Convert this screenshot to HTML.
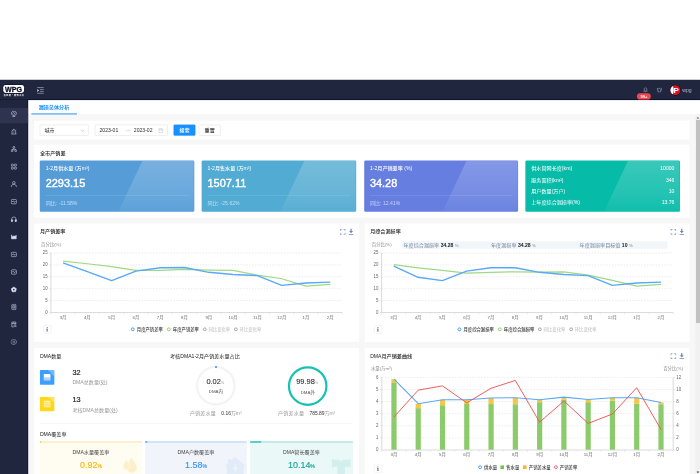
<!DOCTYPE html><html lang="zh"><head><meta charset="utf-8"><title>漏损总体分析</title><style>
*{box-sizing:border-box;margin:0;padding:0}
html,body{width:700px;height:474px;overflow:hidden;background:#fff}
body{font-family:"Liberation Sans","Noto Sans CJK SC",sans-serif;}
#root{position:absolute;left:0;top:0;width:1921px;height:1303px;transform:scale(0.3645833);transform-origin:0 0;overflow:hidden;background:#fff;font-size:14px;color:#333}
.abs{position:absolute}
#header{left:0;top:219.43px;width:1920px;height:54.6px;background:#21263f;border-bottom:2.6px solid #03061f;box-shadow:0 1px 3px rgba(0,10,40,.4)}
#side{left:0;top:273px;width:76.8px;height:1030px;background:#21263f;border-right:2.5px solid #0a1033;box-shadow:1px 0 3px rgba(0,10,40,.4)}
#tabs{left:76.8px;top:273.7px;width:1844px;height:41px;background:#fff;border-bottom:1px solid #e8e8e8}
#main{left:76.8px;top:314.7px;width:1831px;height:986px;background:#f7f7f8}
.panel{position:absolute;background:#fff}
.ptitle{position:absolute;font-size:14px;font-weight:500;color:#222;white-space:nowrap;line-height:20px}
.card{position:absolute;top:439.5px;width:423.8px;height:141.3px;border-radius:3.5px;color:#fff;overflow:hidden}
.card .ov{position:absolute;left:0;top:0;width:100%;height:100%}
.card .t{position:absolute;left:16px;top:12.5px;font-size:14px;line-height:20px;white-space:nowrap;font-weight:500}
.card .n{position:absolute;left:16px;top:44.5px;font-size:30px;line-height:36px;white-space:nowrap;-webkit-text-stroke:1.1px #fff}
.card .hr{position:absolute;left:16px;right:16px;top:96.5px;height:1px;background:rgba(255,255,255,.28)}
.card .s{position:absolute;left:16px;top:107.5px;font-size:14px;line-height:20px;color:rgba(255,255,255,.62);white-space:nowrap}
.row4{position:absolute;left:16px;right:15px;font-size:14px;line-height:20px;height:20px}
.row4 b{font-weight:normal;position:absolute;right:0;top:0}
.inp{position:absolute;top:341.8px;height:30px;border:1px solid #d2d2d2;border-radius:3px;background:#fff;font-size:14px;line-height:28px;color:#303030;white-space:nowrap}
svg text{font-family:"Liberation Sans","Noto Sans CJK SC",sans-serif}
</style></head><body><div id="root">
<div id="main" class="abs"></div>
<div id="tabs" class="abs"></div>
<div id="header" class="abs"></div><div id="side" class="abs"></div>
<div class="abs" style="left:0;top:296px;width:76.5px;height:42px;background:#2e3450"></div>
<div class="abs" style="left:8.8px;top:232.9px;width:57px;height:22px;background:#fff;border-radius:6.5px;box-shadow:0 0 0 1.6px #0d1126;color:#0a0d20;font-weight:bold;font-size:19.5px;line-height:22px;text-align:center;letter-spacing:0;-webkit-text-stroke:0.7px #0a0d20;font-family:'Liberation Sans',sans-serif">WPG</div>
<div class="abs" style="left:9.6px;top:257.6px;width:58px;height:7px;color:#fff;font-size:6px;line-height:7px;white-space:nowrap;letter-spacing:1.15px;font-weight:bold;overflow:hidden">威派格・智慧水务</div>
<svg class="abs" style="left:100.500px;top:237.500px" width="20" height="20" viewBox="0 0 19 19"><g stroke="#777d98" stroke-width="2.600" fill="none"><path d="M1 2H18M8 7H18M8 12H18M1 17H18"/></g><path d="M1 5.500L6 9.500L1 13.500Z" fill="#c3c7d8"/></svg>
<svg class="abs" style="left:28.6px;top:303.4px" width="18" height="18" viewBox="0 0 18 18" fill="none" stroke="#dfe2ee" stroke-width="1.5" stroke-linejoin="round"><path d="M9 2C4 2 2 5 2 8s2 5 7 5 7-2 7-5-2-6-7-6zM9 13v3M5 16.5h8M5 8l3-2 2 2 3-2" /></svg>
<svg class="abs" style="left:28.6px;top:351.5px" width="18" height="18" viewBox="0 0 18 18" fill="none" stroke="#dfe2ee" stroke-width="1.5" stroke-linejoin="round"><path d="M9 1v3M4 15V9a5 5 0 0 1 10 0v6M2 15.5h14M9 9v3" /><path d="M3 4l1.5 1.5M15 4l-1.5 1.5" /></svg>
<svg class="abs" style="left:28.6px;top:399.7px" width="18" height="18" viewBox="0 0 18 18" fill="none" stroke="#dfe2ee" stroke-width="1.5" stroke-linejoin="round"><circle cx="9" cy="4" r="2.6"/><circle cx="4" cy="13.5" r="2.6"/><circle cx="14" cy="13.5" r="2.6"/><path d="M9 6.5v3M4 11V9.5h10V11"/></svg>
<svg class="abs" style="left:28.6px;top:447.8px" width="18" height="18" viewBox="0 0 18 18" fill="none" stroke="#dfe2ee" stroke-width="1.5" stroke-linejoin="round"><rect x="2" y="2" width="5.5" height="5.5" rx="1"/><rect x="10.5" y="2" width="5.5" height="5.5" rx="1"/><rect x="2" y="10.5" width="5.5" height="5.5" rx="1"/><rect x="10.5" y="10.5" width="5.5" height="5.5" rx="1"/></svg>
<svg class="abs" style="left:28.6px;top:496.0px" width="18" height="18" viewBox="0 0 18 18" fill="none" stroke="#dfe2ee" stroke-width="1.5" stroke-linejoin="round"><circle cx="9" cy="5.5" r="3.6"/><path d="M2 17c0-5 3-7.5 7-7.5s7 2.500 7 7.500"/></svg>
<svg class="abs" style="left:28.6px;top:544.1px" width="18" height="18" viewBox="0 0 18 18" fill="none" stroke="#dfe2ee" stroke-width="1.5" stroke-linejoin="round"><rect x="2" y="3" width="14" height="12" rx="2.5"/><path d="M4.500 10c2-4 3.500-4 4.500-1s3 2 4.500-1.500"/></svg>
<svg class="abs" style="left:28.6px;top:592.2px" width="18" height="18" viewBox="0 0 18 18" fill="none" stroke="#dfe2ee" stroke-width="1.5" stroke-linejoin="round"><path d="M3 12V9a6 6 0 0 1 12 0v3"/><rect x="2" y="10.500" width="3.5" height="5.500" rx="1" fill="#dfe2ee"/><rect x="12.500" y="10.500" width="3.500" height="5.500" rx="1" fill="#dfe2ee"/></svg>
<svg class="abs" style="left:28.6px;top:640.4px" width="18" height="18" viewBox="0 0 18 18" fill="none" stroke="#dfe2ee" stroke-width="1.5" stroke-linejoin="round"><path d="M2.500 4v11h13V5l-3.500 4-3-2.500L5.500 10z" fill="#dfe2ee"/></svg>
<svg class="abs" style="left:28.6px;top:688.5px" width="18" height="18" viewBox="0 0 18 18" fill="none" stroke="#dfe2ee" stroke-width="1.5" stroke-linejoin="round"><rect x="2" y="3" width="14" height="12" rx="2.5"/><path d="M4.500 10c2-4 3.500-4 4.500-1s3 2 4.500-1.500"/></svg>
<svg class="abs" style="left:28.6px;top:736.6px" width="18" height="18" viewBox="0 0 18 18" fill="none" stroke="#dfe2ee" stroke-width="1.5" stroke-linejoin="round"><rect x="2" y="3" width="14" height="12" rx="2.5"/><path d="M4.500 10c2-4 3.500-4 4.500-1s3 2 4.500-1.500"/></svg>
<svg class="abs" style="left:28.6px;top:784.8px" width="18" height="18" viewBox="0 0 18 18" fill="none" stroke="#dfe2ee" stroke-width="1.5" stroke-linejoin="round"><path d="M9 2l7 5-2.500 8.500h-9L2 7z" fill="#dfe2ee"/><circle cx="9" cy="9.500" r="2.200" fill="#21263f" stroke="none"/></svg>
<svg class="abs" style="left:28.6px;top:832.9px" width="18" height="18" viewBox="0 0 18 18" fill="none" stroke="#dfe2ee" stroke-width="1.5" stroke-linejoin="round"><rect x="3.500" y="1.500" width="11" height="15" rx="2"/><rect x="6.500" y="5.500" width="5" height="6.500"/></svg>
<svg class="abs" style="left:28.6px;top:881.1px" width="18" height="18" viewBox="0 0 18 18" fill="none" stroke="#dfe2ee" stroke-width="1.5" stroke-linejoin="round"><path d="M14.500 8V2h-11v14h6M3.500 6.500h11M9 2v4.500"/><circle cx="12" cy="12" r="2.600"/><path d="M14 14l2.500 2.500"/></svg>
<svg class="abs" style="left:28.6px;top:929.2px" width="18" height="18" viewBox="0 0 18 18" fill="none" stroke="#a9aec4" stroke-width="1.5" stroke-linejoin="round"><circle cx="9" cy="9" r="2.600"/><path d="M9 1.500l2 1.700 2.600-.3.800 2.500 2.100 1.600-1 2.400.5 2.600-2.400 1-1.300 2.300-2.600-.6L9 16.500l-1.700-1.800-2.600.6-1.300-2.300-2.400-1 .5-2.600-1-2.400 2.100-1.600.8-2.500 2.600.3z"/></svg>
<svg class="abs" style="left:1764px;top:239px" width="13" height="15" viewBox="0 0 18 20" fill="none" stroke="#a9aec4" stroke-width="2.2"><path d="M9 2c-4 0-5 3-5 6v5l-2 2h14l-2-2V8c0-3-1-6-5-6zM7 17.5h4"/></svg>
<div class="abs" style="left:1747px;top:256px;width:38px;height:17px;border-radius:9px;background:#f5444d;color:#fff;font-size:11px;line-height:17px;text-align:center;font-weight:bold">99+</div>
<svg class="abs" style="left:1801px;top:240px" width="15" height="14" viewBox="0 0 20 19" fill="none" stroke="#a9aec4" stroke-width="2.2" stroke-linejoin="round"><path d="M6 2L1 5l2 4 2-1v9h10V8l2 1 2-4-5-3c-1 2-7 2-8 0z"/></svg>
<div class="abs" style="left:1838.5px;top:233.5px;width:27px;height:27px;border-radius:50%;background:#d8121f;overflow:hidden;box-shadow:0 0 0 1.5px #0c1024"><div style="position:absolute;left:-8px;top:-2px;width:17px;height:31px;border-radius:50%;background:#fff"></div><div style="position:absolute;left:9px;top:1px;color:#fff;font-weight:bold;font-size:22px;line-height:26px;font-family:'Liberation Sans',sans-serif">P</div></div>
<div class="abs" style="left:1871.5px;top:236.5px;color:#b3b8cb;font-size:14px;line-height:20px">wpg</div>
<div class="abs" style="left:106px;top:284px;color:#1890ff;font-size:14px;line-height:20px;font-weight:bold;white-space:nowrap">漏损总体分析</div>
<div class="abs" style="left:86px;top:311px;width:125px;height:3px;background:#3a9bf5"></div>
<div class="abs" style="left:1907px;top:314.7px;width:13px;height:986px;background:#f1f1f1"></div>
<div class="abs" style="left:1909.3px;top:329.2px;width:11px;height:557px;background:#c1c1c1"></div>
<svg class="abs" style="left:1907px;top:315px" width="15" height="15"><path d="M3.7 10L7.2 6L10.7 10Z" fill="#505050"/></svg>
<svg class="abs" style="left:1907px;top:1287.500px" width="15" height="15"><path d="M3.500 5.500L7.200 9.800L10.900 5.500Z" fill="#404040"/></svg>
<div class="panel" style="left:93.3px;top:330.8px;width:1797.6px;height:52.4px"></div>
<div class="inp" style="left:109.3px;width:133.5px;padding-left:11.5px">城市<svg style="position:absolute;right:10px;top:10px" width="11" height="10" viewBox="0 0 11 10" fill="none" stroke="#aaa" stroke-width="1.4"><path d="M1 2.5L5.5 7.5L10 2.5"/></svg></div>
<div class="inp" style="left:260px;width:200px"><span style="position:absolute;left:12px">2023-01</span><svg style="position:absolute;left:83px;top:9px" width="14" height="10" viewBox="0 0 14 10" fill="none" stroke="#bdbdbd" stroke-width="1.2"><path d="M1 6.5H12.5L9 3"/></svg><span style="position:absolute;left:106px">2023-02</span><svg style="position:absolute;right:11px;top:8px" width="14" height="14" viewBox="0 0 14 14" fill="none" stroke="#bbb" stroke-width="1.3"><rect x="1.5" y="2.5" width="11" height="10" rx="1.5"/><path d="M4.5 1v3M9.5 1v3M1.5 5.5h11"/></svg></div>
<div class="inp" style="left:476px;width:60px;background:#1890ff;border-color:#1890ff;color:#fff;text-align:center;font-weight:500">搜索</div>
<div class="inp" style="left:545px;width:60px;text-align:center;color:#333;font-weight:500">重置</div>
<div class="panel" style="left:93.3px;top:396.6px;width:1797.6px;height:200.5px"></div>
<div class="ptitle" style="left:109.7px;top:409.4px">全市产销差</div>
<div class="card" style="left:109.3px;width:423.8px;background:#569dd8"><svg class="ov" viewBox="0 0 424 141" preserveAspectRatio="none"><defs><linearGradient id="og" x1="0" y1="0" x2="0" y2="1"><stop offset="0" stop-color="#fff" stop-opacity="0.2"/><stop offset="0.65" stop-color="#fff" stop-opacity="0.12"/><stop offset="1" stop-color="#fff" stop-opacity="0.04"/></linearGradient></defs><polygon points="281.5,1.5 422.3,1.5 422.3,139.5 216,139.5" fill="url(#og)"/></svg><div class="t">1-2月供水量 (万m³)</div><div class="n">2293.15</div><div class="hr"></div><div class="s">同比: -11.58%</div></div>
<div class="card" style="left:553.25px;width:423.8px;background:#52abd2"><svg class="ov" viewBox="0 0 424 141" preserveAspectRatio="none"><defs><linearGradient id="og" x1="0" y1="0" x2="0" y2="1"><stop offset="0" stop-color="#fff" stop-opacity="0.2"/><stop offset="0.65" stop-color="#fff" stop-opacity="0.12"/><stop offset="1" stop-color="#fff" stop-opacity="0.04"/></linearGradient></defs><polygon points="281.5,1.5 422.3,1.5 422.3,139.5 216,139.5" fill="url(#og)"/></svg><div class="t">1-2月售水量 (万m³)</div><div class="n">1507.11</div><div class="hr"></div><div class="s">同比: -25.62%</div></div>
<div class="card" style="left:998.6px;width:422.4px;background:#657ee0"><svg class="ov" viewBox="0 0 424 141" preserveAspectRatio="none"><defs><linearGradient id="og" x1="0" y1="0" x2="0" y2="1"><stop offset="0" stop-color="#fff" stop-opacity="0.2"/><stop offset="0.65" stop-color="#fff" stop-opacity="0.12"/><stop offset="1" stop-color="#fff" stop-opacity="0.04"/></linearGradient></defs><polygon points="281.5,1.5 422.3,1.5 422.3,139.5 216,139.5" fill="url(#og)"/></svg><div class="t">1-2月产销差率 (%)</div><div class="n">34.28</div><div class="hr"></div><div class="s">同比: 12.41%</div></div>
<div class="card" style="left:1441.15px;background:#07bba9"><svg class="ov" viewBox="0 0 424 141" preserveAspectRatio="none"><defs><linearGradient id="og" x1="0" y1="0" x2="0" y2="1"><stop offset="0" stop-color="#fff" stop-opacity="0.2"/><stop offset="0.65" stop-color="#fff" stop-opacity="0.12"/><stop offset="1" stop-color="#fff" stop-opacity="0.04"/></linearGradient></defs><polygon points="281.5,1.5 422.3,1.5 422.3,139.5 216,139.5" fill="url(#og)"/></svg><div class="row4" style="top:12.5px">供水管网长度(km)<b>10000</b></div><div class="row4" style="top:43.5px">服务面积(km²)<b>346</b></div><div class="row4" style="top:74.5px">用户数量(万户)<b>10</b></div><div class="row4" style="top:105.5px">上年度综合漏损率(%)<b>13.76</b></div></div>
<div class="panel" style="left:93.3px;top:613.2px;width:891.7px;height:325.1px"></div>
<div class="panel" style="left:1000.1px;top:613.2px;width:890.8px;height:325.1px"></div>
<div class="ptitle" style="left:109.5px;top:625px">月产销差率</div>
<div class="ptitle" style="left:1015.3px;top:625px">月综合漏损率</div>
<svg class="abs" style="left:932.0571428571428px;top:628.2457142857143px" width="16" height="16" viewBox="0 0 16 16" fill="none" stroke="#5d76ad" stroke-width="2"><path d="M1 5.500V1h4.500M10.500 1H15v4.500M15 10.500V15h-4.500M5.500 15H1v-4.500"/></svg><svg class="abs" style="left:955.5571428571428px;top:627.2457142857143px" width="14" height="18" viewBox="0 0 14 18" fill="#6f86b8" stroke="none"><path d="M5.300 0h3.400v6.500h3.800L7 12.500 1.500 6.500h3.800zM0.500 14.800h13v2H0.500z"/></svg>
<svg class="abs" style="left:1839.1200000000001px;top:628.2457142857143px" width="16" height="16" viewBox="0 0 16 16" fill="none" stroke="#5d76ad" stroke-width="2"><path d="M1 5.500V1h4.500M10.500 1H15v4.500M15 10.500V15h-4.500M5.500 15H1v-4.500"/></svg><svg class="abs" style="left:1862.6200000000001px;top:627.2457142857143px" width="14" height="18" viewBox="0 0 14 18" fill="#6f86b8" stroke="none"><path d="M5.300 0h3.400v6.500h3.800L7 12.500 1.500 6.500h3.800zM0.500 14.800h13v2H0.500z"/></svg>
<svg class="abs" style="left:93.3px;top:613.2px" width="891.7" height="323" viewBox="0 0 891.7 323"><line x1="46.6" x2="846.1" y1="211.6" y2="211.6" stroke="#e4e4e4" stroke-width="2" stroke-dasharray="4 4"/><line x1="46.6" x2="846.1" y1="178.9" y2="178.9" stroke="#e4e4e4" stroke-width="2" stroke-dasharray="4 4"/><line x1="46.6" x2="846.1" y1="146.3" y2="146.3" stroke="#e4e4e4" stroke-width="2" stroke-dasharray="4 4"/><line x1="46.6" x2="846.1" y1="113.7" y2="113.7" stroke="#e4e4e4" stroke-width="2" stroke-dasharray="4 4"/><line x1="46.6" x2="846.1" y1="81.0" y2="81.0" stroke="#e4e4e4" stroke-width="2" stroke-dasharray="4 4"/><line x1="46.6" x2="46.6" y1="81.0" y2="244.2" stroke="#d6d6d6" stroke-width="2.4"/><line x1="46.6" x2="846.1" y1="244.2" y2="244.2" stroke="#d6d6d6" stroke-width="2.4"/><line x1="46.6" x2="46.6" y1="244.2" y2="249.2" stroke="#d0d0d0" stroke-width="1.2"/><line x1="113.2" x2="113.2" y1="244.2" y2="249.2" stroke="#d0d0d0" stroke-width="1.2"/><line x1="179.8" x2="179.8" y1="244.2" y2="249.2" stroke="#d0d0d0" stroke-width="1.2"/><line x1="246.5" x2="246.5" y1="244.2" y2="249.2" stroke="#d0d0d0" stroke-width="1.2"/><line x1="313.1" x2="313.1" y1="244.2" y2="249.2" stroke="#d0d0d0" stroke-width="1.2"/><line x1="379.7" x2="379.7" y1="244.2" y2="249.2" stroke="#d0d0d0" stroke-width="1.2"/><line x1="446.4" x2="446.4" y1="244.2" y2="249.2" stroke="#d0d0d0" stroke-width="1.2"/><line x1="513.0" x2="513.0" y1="244.2" y2="249.2" stroke="#d0d0d0" stroke-width="1.2"/><line x1="579.6" x2="579.6" y1="244.2" y2="249.2" stroke="#d0d0d0" stroke-width="1.2"/><line x1="646.2" x2="646.2" y1="244.2" y2="249.2" stroke="#d0d0d0" stroke-width="1.2"/><line x1="712.9" x2="712.9" y1="244.2" y2="249.2" stroke="#d0d0d0" stroke-width="1.2"/><line x1="779.5" x2="779.5" y1="244.2" y2="249.2" stroke="#d0d0d0" stroke-width="1.2"/><line x1="846.1" x2="846.1" y1="244.2" y2="249.2" stroke="#d0d0d0" stroke-width="1.2"/><text transform="translate(37.6,248.0) scale(.8,1)" font-size="15" fill="#666" text-anchor="end">0</text><line x1="41.6" x2="46.6" y1="244.2" y2="244.2" stroke="#d0d0d0" stroke-width="1.2"/><text transform="translate(37.6,215.4) scale(.8,1)" font-size="15" fill="#666" text-anchor="end">5</text><line x1="41.6" x2="46.6" y1="211.6" y2="211.6" stroke="#d0d0d0" stroke-width="1.2"/><text transform="translate(37.6,182.7) scale(.8,1)" font-size="15" fill="#666" text-anchor="end">10</text><line x1="41.6" x2="46.6" y1="178.9" y2="178.9" stroke="#d0d0d0" stroke-width="1.2"/><text transform="translate(37.6,150.1) scale(.8,1)" font-size="15" fill="#666" text-anchor="end">15</text><line x1="41.6" x2="46.6" y1="146.3" y2="146.3" stroke="#d0d0d0" stroke-width="1.2"/><text transform="translate(37.6,117.5) scale(.8,1)" font-size="15" fill="#666" text-anchor="end">20</text><line x1="41.6" x2="46.6" y1="113.7" y2="113.7" stroke="#d0d0d0" stroke-width="1.2"/><text transform="translate(37.6,84.8) scale(.8,1)" font-size="15" fill="#666" text-anchor="end">25</text><line x1="41.6" x2="46.6" y1="81.0" y2="81.0" stroke="#d0d0d0" stroke-width="1.2"/><text x="79.9" y="261.4" font-size="12" fill="#6a6a6a" text-anchor="middle">3月</text><text x="146.5" y="261.4" font-size="12" fill="#6a6a6a" text-anchor="middle">4月</text><text x="213.2" y="261.4" font-size="12" fill="#6a6a6a" text-anchor="middle">5月</text><text x="279.8" y="261.4" font-size="12" fill="#6a6a6a" text-anchor="middle">6月</text><text x="346.4" y="261.4" font-size="12" fill="#6a6a6a" text-anchor="middle">7月</text><text x="413.0" y="261.4" font-size="12" fill="#6a6a6a" text-anchor="middle">8月</text><text x="479.7" y="261.4" font-size="12" fill="#6a6a6a" text-anchor="middle">9月</text><text x="546.3" y="261.4" font-size="12" fill="#6a6a6a" text-anchor="middle">10月</text><text x="612.9" y="261.4" font-size="12" fill="#6a6a6a" text-anchor="middle">11月</text><text x="679.6" y="261.4" font-size="12" fill="#6a6a6a" text-anchor="middle">12月</text><text x="746.2" y="261.4" font-size="12" fill="#6a6a6a" text-anchor="middle">1月</text><text x="812.8" y="261.4" font-size="12" fill="#6a6a6a" text-anchor="middle">2月</text><text x="19.7" y="62.6" font-size="12" fill="#888">百分比(%)</text><polyline points="79.9,103.2 146.5,110.4 213.2,118.2 279.8,128.7 346.4,128.7 413.0,126.1 479.7,128.0 546.3,128.7 612.9,141.7 679.6,151.5 746.2,171.8 812.8,167.2" fill="none" stroke="#9fd983" stroke-width="3.3" stroke-linejoin="round"/><polyline points="79.9,107.8 146.5,131.9 213.2,156.7 279.8,130.6 346.4,121.5 413.0,120.8 479.7,133.9 546.3,139.8 612.9,143.0 679.6,169.8 746.2,163.3 812.8,160.7" fill="none" stroke="#5aa8f8" stroke-width="3.8" stroke-linejoin="round"/><circle cx="271.2" cy="290.3" r="4" fill="#fff" stroke="#3a96f5" stroke-width="2.5"/><text x="282.2" y="294.8" font-size="12" fill="#333" font-weight="500">月度产销差率</text><circle cx="370.0" cy="290.3" r="4" fill="#fff" stroke="#86cf5c" stroke-width="2.5"/><text x="381.0" y="294.8" font-size="12" fill="#333" font-weight="500">年度产销差率</text><circle cx="468.7" cy="290.3" r="4" fill="#fff" stroke="#555" stroke-width="1.3"/><text x="478.7" y="294.8" font-size="12" fill="#bbb" font-weight="normal">同比变化率</text><circle cx="554.0" cy="290.3" r="4" fill="#fff" stroke="#555" stroke-width="1.3"/><text x="564.0" y="294.8" font-size="12" fill="#bbb" font-weight="normal">环比变化率</text></svg>
<svg class="abs" style="left:999.2px;top:613.2px" width="891.7" height="323" viewBox="0 0 891.7 323"><line x1="47.7" x2="847.3" y1="211.6" y2="211.6" stroke="#e4e4e4" stroke-width="2" stroke-dasharray="4 4"/><line x1="47.7" x2="847.3" y1="178.9" y2="178.9" stroke="#e4e4e4" stroke-width="2" stroke-dasharray="4 4"/><line x1="47.7" x2="847.3" y1="146.3" y2="146.3" stroke="#e4e4e4" stroke-width="2" stroke-dasharray="4 4"/><line x1="47.7" x2="847.3" y1="113.7" y2="113.7" stroke="#e4e4e4" stroke-width="2" stroke-dasharray="4 4"/><line x1="47.7" x2="847.3" y1="81.0" y2="81.0" stroke="#e4e4e4" stroke-width="2" stroke-dasharray="4 4"/><line x1="47.7" x2="47.7" y1="81.0" y2="244.2" stroke="#d6d6d6" stroke-width="2.4"/><line x1="47.7" x2="847.3" y1="244.2" y2="244.2" stroke="#d6d6d6" stroke-width="2.4"/><line x1="47.7" x2="47.7" y1="244.2" y2="249.2" stroke="#d0d0d0" stroke-width="1.2"/><line x1="114.4" x2="114.4" y1="244.2" y2="249.2" stroke="#d0d0d0" stroke-width="1.2"/><line x1="181.0" x2="181.0" y1="244.2" y2="249.2" stroke="#d0d0d0" stroke-width="1.2"/><line x1="247.6" x2="247.6" y1="244.2" y2="249.2" stroke="#d0d0d0" stroke-width="1.2"/><line x1="314.3" x2="314.3" y1="244.2" y2="249.2" stroke="#d0d0d0" stroke-width="1.2"/><line x1="380.9" x2="380.9" y1="244.2" y2="249.2" stroke="#d0d0d0" stroke-width="1.2"/><line x1="447.5" x2="447.5" y1="244.2" y2="249.2" stroke="#d0d0d0" stroke-width="1.2"/><line x1="514.1" x2="514.1" y1="244.2" y2="249.2" stroke="#d0d0d0" stroke-width="1.2"/><line x1="580.8" x2="580.8" y1="244.2" y2="249.2" stroke="#d0d0d0" stroke-width="1.2"/><line x1="647.4" x2="647.4" y1="244.2" y2="249.2" stroke="#d0d0d0" stroke-width="1.2"/><line x1="714.0" x2="714.0" y1="244.2" y2="249.2" stroke="#d0d0d0" stroke-width="1.2"/><line x1="780.7" x2="780.7" y1="244.2" y2="249.2" stroke="#d0d0d0" stroke-width="1.2"/><line x1="847.3" x2="847.3" y1="244.2" y2="249.2" stroke="#d0d0d0" stroke-width="1.2"/><text transform="translate(38.7,248.0) scale(.8,1)" font-size="15" fill="#666" text-anchor="end">0</text><line x1="42.7" x2="47.7" y1="244.2" y2="244.2" stroke="#d0d0d0" stroke-width="1.2"/><text transform="translate(38.7,215.4) scale(.8,1)" font-size="15" fill="#666" text-anchor="end">5</text><line x1="42.7" x2="47.7" y1="211.6" y2="211.6" stroke="#d0d0d0" stroke-width="1.2"/><text transform="translate(38.7,182.7) scale(.8,1)" font-size="15" fill="#666" text-anchor="end">10</text><line x1="42.7" x2="47.7" y1="178.9" y2="178.9" stroke="#d0d0d0" stroke-width="1.2"/><text transform="translate(38.7,150.1) scale(.8,1)" font-size="15" fill="#666" text-anchor="end">15</text><line x1="42.7" x2="47.7" y1="146.3" y2="146.3" stroke="#d0d0d0" stroke-width="1.2"/><text transform="translate(38.7,117.5) scale(.8,1)" font-size="15" fill="#666" text-anchor="end">20</text><line x1="42.7" x2="47.7" y1="113.7" y2="113.7" stroke="#d0d0d0" stroke-width="1.2"/><text transform="translate(38.7,84.8) scale(.8,1)" font-size="15" fill="#666" text-anchor="end">25</text><line x1="42.7" x2="47.7" y1="81.0" y2="81.0" stroke="#d0d0d0" stroke-width="1.2"/><text x="81.1" y="261.4" font-size="12" fill="#6a6a6a" text-anchor="middle">3月</text><text x="147.7" y="261.4" font-size="12" fill="#6a6a6a" text-anchor="middle">4月</text><text x="214.3" y="261.4" font-size="12" fill="#6a6a6a" text-anchor="middle">5月</text><text x="280.9" y="261.4" font-size="12" fill="#6a6a6a" text-anchor="middle">6月</text><text x="347.6" y="261.4" font-size="12" fill="#6a6a6a" text-anchor="middle">7月</text><text x="414.2" y="261.4" font-size="12" fill="#6a6a6a" text-anchor="middle">8月</text><text x="480.8" y="261.4" font-size="12" fill="#6a6a6a" text-anchor="middle">9月</text><text x="547.5" y="261.4" font-size="12" fill="#6a6a6a" text-anchor="middle">10月</text><text x="614.1" y="261.4" font-size="12" fill="#6a6a6a" text-anchor="middle">11月</text><text x="680.7" y="261.4" font-size="12" fill="#6a6a6a" text-anchor="middle">12月</text><text x="747.3" y="261.4" font-size="12" fill="#6a6a6a" text-anchor="middle">1月</text><text x="814.0" y="261.4" font-size="12" fill="#6a6a6a" text-anchor="middle">2月</text><text x="20.9" y="62.6" font-size="12" fill="#888">百分比(%)</text><polyline points="81.1,113.0 147.7,121.5 214.3,128.7 280.9,135.9 347.6,133.9 414.2,132.6 480.8,133.2 547.5,132.6 614.1,141.7 680.7,156.1 747.3,171.8 814.0,167.2" fill="none" stroke="#9fd983" stroke-width="3.3" stroke-linejoin="round"/><polyline points="81.1,116.9 147.7,147.6 214.3,156.7 280.9,130.6 347.6,121.5 414.2,121.5 480.8,133.9 547.5,139.8 614.1,143.0 680.7,169.8 747.3,163.3 814.0,160.7" fill="none" stroke="#5aa8f8" stroke-width="3.8" stroke-linejoin="round"/><circle cx="261.1" cy="290.3" r="4" fill="#fff" stroke="#3a96f5" stroke-width="2.5"/><text x="272.1" y="294.8" font-size="12" fill="#333" font-weight="500">月度综合漏损率</text><circle cx="372.0" cy="290.3" r="4" fill="#fff" stroke="#86cf5c" stroke-width="2.5"/><text x="383.0" y="294.8" font-size="12" fill="#333" font-weight="500">年度综合漏损率</text><circle cx="481.9" cy="290.3" r="4" fill="#fff" stroke="#555" stroke-width="1.3"/><text x="491.9" y="294.8" font-size="12" fill="#bbb" font-weight="normal">同比变化率</text><circle cx="567.5" cy="290.3" r="4" fill="#fff" stroke="#555" stroke-width="1.3"/><text x="577.5" y="294.8" font-size="12" fill="#bbb" font-weight="normal">环比变化率</text></svg>
<div class="abs" style="left:118.73714285714286px;top:891.9971428571428px;width:22px;height:23px;border:1.3px solid #e0e0e0;border-radius:4px;background:#fff"><svg style="position:absolute;left:6.500px;top:4px" width="7" height="13" viewBox="0 0 7 13" fill="#5d76ad"><circle cx="3.500" cy="1.800" r="1.700"/><path d="M1 5h4v6h1.500v1.500h-6V11H2V6.500H1z"/></svg></div>
<div class="abs" style="left:1025.8px;top:891.9971428571428px;width:22px;height:23px;border:1.3px solid #e0e0e0;border-radius:4px;background:#fff"><svg style="position:absolute;left:6.500px;top:4px" width="7" height="13" viewBox="0 0 7 13" fill="#5d76ad"><circle cx="3.500" cy="1.800" r="1.700"/><path d="M1 5h4v6h1.500v1.500h-6V11H2V6.500H1z"/></svg></div>
<div class="abs" style="left:1102.4px;top:661.9px;width:728.5px;height:19.7px;background:#f1f6fb"></div>
<div class="abs" style="left:1106.7px;top:661.5px;font-size:14px;line-height:20px;color:#7a8699;white-space:nowrap">年度综合漏损率 <b style="color:#222">34.28</b> <span style="font-size:12px">%</span></div>
<div class="abs" style="left:1346.7px;top:661.5px;font-size:14px;line-height:20px;color:#7a8699;white-space:nowrap">年度漏损率 <b style="color:#222">34.28</b> <span style="font-size:12px">%</span></div>
<div class="abs" style="left:1589.8px;top:661.5px;font-size:14px;line-height:20px;color:#7a8699;white-space:nowrap">年度漏损率目标值 <b style="color:#222">10</b> <span style="font-size:12px">%</span></div>
<div class="panel" style="left:93.3px;top:953.8px;width:891.7px;height:347px"></div>
<div class="panel" style="left:1000.1px;top:953.8px;width:890.8px;height:347px"></div>
<div class="ptitle" style="left:109.5px;top:966px;font-weight:normal">DMA数量</div>
<div class="ptitle" style="left:466.3px;top:966px;font-weight:normal">考核DMA1-2月产销差水量占比</div>
<div class="ptitle" style="left:1015.3px;top:966px">DMA月产销差曲线</div>
<svg class="abs" style="left:1839.1200000000001px;top:969.1828571428571px" width="16" height="16" viewBox="0 0 16 16" fill="none" stroke="#5d76ad" stroke-width="2"><path d="M1 5.500V1h4.500M10.500 1H15v4.500M15 10.500V15h-4.500M5.500 15H1v-4.500"/></svg><svg class="abs" style="left:1862.6200000000001px;top:968.1828571428571px" width="14" height="18" viewBox="0 0 14 18" fill="#6f86b8" stroke="none"><path d="M5.300 0h3.400v6.500h3.800L7 12.500 1.500 6.500h3.800zM0.500 14.800h13v2H0.500z"/></svg>
<svg class="abs" style="left:109.4px;top:1015.1px" width="40.5" height="40.5" viewBox="0 0 40 40"><rect width="40" height="40" rx="3" fill="#3d9efd"/><path d="M22 0H37a3 3 0 0 1 3 3V18z" fill="#fff" fill-opacity=".28"/><rect x="11" y="11" width="18" height="10" rx="1.5" fill="#fff"/><rect x="11" y="21" width="18" height="7.500" rx="1.5" fill="#b9dcff"/><path d="M13.500 24.500h13" stroke="#7fbfff" stroke-width="1.500"/></svg>
<svg class="abs" style="left:109.4px;top:1088.4px" width="40.500" height="40.500" viewBox="0 0 40 40"><rect width="40" height="40" rx="3" fill="#ffd71a"/><path d="M22 0H37a3 3 0 0 1 3 3V18z" fill="#fff" fill-opacity=".3"/><rect x="11" y="11" width="18" height="18" rx="1.500" fill="#fff3b8"/><path d="M13 16h9M13 20.500h14M13 25h14" stroke="#ffd71a" stroke-width="1.800"/><rect x="23.500" y="13" width="4" height="5" fill="#ffe766"/></svg>
<div class="abs" style="left:198.6px;top:1010.3px;font-size:20px;line-height:24px;color:#222;-webkit-text-stroke:.5px #222">32</div>
<div class="abs" style="left:198.6px;top:1039.1px;font-size:14px;line-height:20px;color:#999;white-space:nowrap">DMA总数量(处)</div>
<div class="abs" style="left:198.6px;top:1084.0px;font-size:20px;line-height:24px;color:#222;-webkit-text-stroke:.5px #222">13</div>
<div class="abs" style="left:198.6px;top:1113.7px;font-size:14px;line-height:20px;color:#999;white-space:nowrap">考核DMA总数量(处)</div>
<div class="abs" style="left:109.5px;top:1161.1px;width:858px;height:1px;background:#e9e9e9"></div>
<div class="ptitle" style="left:109.5px;top:1180.6px;font-weight:normal">DMA覆盖率</div>
<svg class="abs" style="left:531.9px;top:997.9px" width="120" height="120" viewBox="-60 -60 120 120"><circle r="51.4" fill="none" stroke="#f3f3f3" stroke-width="6"/><circle cx="0.5" cy="-51.4" r="3" fill="#3a96f5"/><text x="-1.5" y="-5" font-size="20.5" fill="#2b2b2b" stroke="#2b2b2b" stroke-width=".2" text-anchor="middle">0.02<tspan font-size="10" fill="#999" stroke="none">%</tspan></text><text x="0" y="21" font-size="12" fill="#555" text-anchor="middle">DMA内</text></svg>
<svg class="abs" style="left:783.7px;top:998.5px" width="120" height="120" viewBox="-60 -60 120 120"><circle r="51.4" fill="none" stroke="#13c2b3" stroke-width="6"/><text x="-1.5" y="-5" font-size="20.5" fill="#2b2b2b" stroke="#2b2b2b" stroke-width=".2" text-anchor="middle">99.98<tspan font-size="10" fill="#999" stroke="none">%</tspan></text><text x="0" y="21" font-size="12" fill="#555" text-anchor="middle">DMA外</text></svg>
<div class="abs" style="left:520.6px;top:1122.5px;font-size:14px;line-height:20px;color:#999;white-space:nowrap;letter-spacing:0.4px">产销差水量<span style="letter-spacing:0;color:#333;margin-left:14.5px;font-size:13.5px">0.16</span><span style="letter-spacing:0;font-size:13.5px">万m³</span></div>
<div class="abs" style="left:762.2px;top:1122.5px;font-size:14px;line-height:20px;color:#999;white-space:nowrap;letter-spacing:0.4px">产销差水量<span style="letter-spacing:0;color:#333;margin-left:14.5px;font-size:13.5px">785.89</span><span style="letter-spacing:0;font-size:13.5px">万m³</span></div>
<div class="abs" style="left:109.4px;top:1209.9px;width:280.2px;height:100px;background:#fffcf1;overflow:hidden"><div style="position:absolute;left:0;top:0;width:100%;height:4.5px;background:#fde8b2"></div><div style="position:absolute;left:0;top:0;width:3.5px;height:4.5px;background:#f7c21b"></div><div style="position:absolute;left:0;top:4.5px;width:100%;height:96px"><svg style="position:absolute;left:225.2px;top:40.5px" width="44" height="60" viewBox="0 0 44 60"><path d="M26 0C32 10 40 20 40 28a14 14 0 0 1-28 0C12 20 20 10 26 0z" fill="#fdefc9"/><path d="M12 5C16 12 21.500 18 21.500 24a9.500 9.500 0 0 1-19 0C2.500 18 8 12 12 5z" fill="#fdefc9" stroke="#fffcf1" stroke-width="2"/></svg><div style="position:absolute;left:0;width:100%;top:16.4px;text-align:center;font-size:14px;line-height:20px;color:#444">DMA水量覆盖率</div><div style="position:absolute;left:0;width:100%;top:46.3px;text-align:center;font-size:24.5px;line-height:28px;color:#f5b90f;-webkit-text-stroke:.45px #f5b90f">0.92<span style="font-size:14px">%</span></div></div></div>
<div class="abs" style="left:397.7px;top:1209.9px;width:279.8px;height:100px;background:#f1f5fb;overflow:hidden"><div style="position:absolute;left:0;top:0;width:100%;height:4.5px;background:#bed8f8"></div><div style="position:absolute;left:0;top:0;width:6.5px;height:4.5px;background:#4a9df3"></div><div style="position:absolute;left:0;top:4.5px;width:100%;height:96px"><svg style="position:absolute;left:215.23428571428568px;top:38.61142857142851px" width="64" height="52" viewBox="0 0 64 52"><path d="M32 0L62 26H55V52H9V26H2L12 17V6H19V11z" fill="#e2ebf8"/><path d="M35 17L26 34H32L28 47L39 29H33z" fill="#f1f5fb"/></svg><div style="position:absolute;left:0;width:100%;top:16.4px;text-align:center;font-size:14px;line-height:20px;color:#444">DMA户数覆盖率</div><div style="position:absolute;left:0;width:100%;top:46.3px;text-align:center;font-size:24.5px;line-height:28px;color:#3a96f5;-webkit-text-stroke:.45px #3a96f5">1.58<span style="font-size:14px">%</span></div></div></div>
<div class="abs" style="left:686.0px;top:1209.9px;width:281.7px;height:100px;background:#ebf8f8;overflow:hidden"><div style="position:absolute;left:0;top:0;width:100%;height:4.5px;background:#a9e1dd"></div><div style="position:absolute;left:0;top:0;width:30px;height:4.5px;background:#1cbfb1"></div><div style="position:absolute;left:0;top:4.5px;width:100%;height:96px"><svg style="position:absolute;left:224.09142857142862px;top:43.5485714285714px" width="52" height="46" viewBox="0 0 52 46"><path d="M0 0H4V3H20L25 7L30 3H48V0H52V25H48V22H36V46H15V22H4V25H0z" fill="#d2efee"/></svg><div style="position:absolute;left:0;width:100%;top:16.4px;text-align:center;font-size:14px;line-height:20px;color:#444">DMA管长覆盖率</div><div style="position:absolute;left:0;width:100%;top:46.3px;text-align:center;font-size:24.5px;line-height:28px;color:#17a79b;-webkit-text-stroke:.45px #17a79b">10.14<span style="font-size:14px">%</span></div></div></div>
<svg class="abs" style="left:999.2px;top:954px" width="891.7" height="346" viewBox="0 0 891.7 346"><line x1="48.3" x2="847.3" y1="247.1" y2="247.1" stroke="#e6e6e6" stroke-width="2" stroke-dasharray="4 4"/><line x1="48.3" x2="847.3" y1="213.9" y2="213.9" stroke="#e6e6e6" stroke-width="2" stroke-dasharray="4 4"/><line x1="48.3" x2="847.3" y1="180.7" y2="180.7" stroke="#e6e6e6" stroke-width="2" stroke-dasharray="4 4"/><line x1="48.3" x2="847.3" y1="147.5" y2="147.5" stroke="#e6e6e6" stroke-width="2" stroke-dasharray="4 4"/><line x1="48.3" x2="847.3" y1="114.3" y2="114.3" stroke="#e6e6e6" stroke-width="2" stroke-dasharray="4 4"/><line x1="48.3" x2="847.3" y1="81.2" y2="81.2" stroke="#e6e6e6" stroke-width="2" stroke-dasharray="4 4"/><rect x="74.5" y="96.4" width="14.3" height="183.9" fill="#8bcb6c"/><rect x="74.5" y="86.1" width="14.3" height="10.3" fill="#f6c745"/><rect x="141.0" y="165.5" width="14.3" height="114.8" fill="#8bcb6c"/><rect x="141.0" y="153.2" width="14.3" height="12.3" fill="#f6c745"/><rect x="207.6" y="157.5" width="14.3" height="122.8" fill="#8bcb6c"/><rect x="207.6" y="142.6" width="14.3" height="14.9" fill="#f6c745"/><rect x="274.2" y="154.2" width="14.3" height="126.1" fill="#8bcb6c"/><rect x="274.2" y="142.6" width="14.3" height="11.6" fill="#f6c745"/><rect x="340.8" y="154.2" width="14.3" height="126.1" fill="#8bcb6c"/><rect x="340.8" y="137.6" width="14.3" height="16.6" fill="#f6c745"/><rect x="407.4" y="154.8" width="14.3" height="125.5" fill="#8bcb6c"/><rect x="407.4" y="136.9" width="14.3" height="17.9" fill="#f6c745"/><rect x="474.0" y="149.2" width="14.3" height="131.1" fill="#8bcb6c"/><rect x="474.0" y="142.6" width="14.3" height="6.6" fill="#f6c745"/><rect x="540.5" y="142.6" width="14.3" height="137.7" fill="#8bcb6c"/><rect x="540.5" y="135.3" width="14.3" height="7.3" fill="#f6c745"/><rect x="607.1" y="149.2" width="14.3" height="131.1" fill="#8bcb6c"/><rect x="607.1" y="141.9" width="14.3" height="7.3" fill="#f6c745"/><rect x="673.7" y="145.2" width="14.3" height="135.1" fill="#8bcb6c"/><rect x="673.7" y="136.9" width="14.3" height="8.3" fill="#f6c745"/><rect x="740.3" y="153.2" width="14.3" height="127.1" fill="#8bcb6c"/><rect x="740.3" y="136.9" width="14.3" height="16.3" fill="#f6c745"/><rect x="806.9" y="154.8" width="14.3" height="125.5" fill="#8bcb6c"/><rect x="806.9" y="149.9" width="14.3" height="5.0" fill="#f6c745"/><line x1="48.3" x2="847.3" y1="280.3" y2="280.3" stroke="#d6d6d6" stroke-width="2.4"/><line x1="847.3" x2="847.3" y1="81.2" y2="280.3" stroke="#d6d6d6" stroke-width="2.4"/><line x1="48.3" x2="48.3" y1="81.2" y2="280.3" stroke="#d6d6d6" stroke-width="2.4"/><line x1="48.3" x2="48.3" y1="280.3" y2="285.3" stroke="#d0d0d0" stroke-width="1.2"/><line x1="114.9" x2="114.9" y1="280.3" y2="285.3" stroke="#d0d0d0" stroke-width="1.2"/><line x1="181.5" x2="181.5" y1="280.3" y2="285.3" stroke="#d0d0d0" stroke-width="1.2"/><line x1="248.0" x2="248.0" y1="280.3" y2="285.3" stroke="#d0d0d0" stroke-width="1.2"/><line x1="314.6" x2="314.6" y1="280.3" y2="285.3" stroke="#d0d0d0" stroke-width="1.2"/><line x1="381.2" x2="381.2" y1="280.3" y2="285.3" stroke="#d0d0d0" stroke-width="1.2"/><line x1="447.8" x2="447.8" y1="280.3" y2="285.3" stroke="#d0d0d0" stroke-width="1.2"/><line x1="514.4" x2="514.4" y1="280.3" y2="285.3" stroke="#d0d0d0" stroke-width="1.2"/><line x1="581.0" x2="581.0" y1="280.3" y2="285.3" stroke="#d0d0d0" stroke-width="1.2"/><line x1="647.5" x2="647.5" y1="280.3" y2="285.3" stroke="#d0d0d0" stroke-width="1.2"/><line x1="714.1" x2="714.1" y1="280.3" y2="285.3" stroke="#d0d0d0" stroke-width="1.2"/><line x1="780.7" x2="780.7" y1="280.3" y2="285.3" stroke="#d0d0d0" stroke-width="1.2"/><line x1="847.3" x2="847.3" y1="280.3" y2="285.3" stroke="#d0d0d0" stroke-width="1.2"/><text transform="translate(39.3,284.1) scale(.8,1)" font-size="15" fill="#666" text-anchor="end">0</text><line x1="43.3" x2="48.3" y1="280.3" y2="280.3" stroke="#d0d0d0" stroke-width="1.2"/><text transform="translate(39.3,250.9) scale(.8,1)" font-size="15" fill="#666" text-anchor="end">1</text><line x1="43.3" x2="48.3" y1="247.1" y2="247.1" stroke="#d0d0d0" stroke-width="1.2"/><text transform="translate(39.3,217.7) scale(.8,1)" font-size="15" fill="#666" text-anchor="end">2</text><line x1="43.3" x2="48.3" y1="213.9" y2="213.9" stroke="#d0d0d0" stroke-width="1.2"/><text transform="translate(39.3,184.5) scale(.8,1)" font-size="15" fill="#666" text-anchor="end">3</text><line x1="43.3" x2="48.3" y1="180.7" y2="180.7" stroke="#d0d0d0" stroke-width="1.2"/><text transform="translate(39.3,151.3) scale(.8,1)" font-size="15" fill="#666" text-anchor="end">4</text><line x1="43.3" x2="48.3" y1="147.5" y2="147.5" stroke="#d0d0d0" stroke-width="1.2"/><text transform="translate(39.3,118.1) scale(.8,1)" font-size="15" fill="#666" text-anchor="end">5</text><line x1="43.3" x2="48.3" y1="114.3" y2="114.3" stroke="#d0d0d0" stroke-width="1.2"/><text transform="translate(39.3,85.0) scale(.8,1)" font-size="15" fill="#666" text-anchor="end">6</text><line x1="43.3" x2="48.3" y1="81.2" y2="81.2" stroke="#d0d0d0" stroke-width="1.2"/><text transform="translate(855.8,284.1) scale(.8,1)" font-size="15" fill="#666">0</text><line x1="847.3" x2="852.3" y1="280.3" y2="280.3" stroke="#bfbfbf" stroke-width="1.2"/><text transform="translate(855.8,250.9) scale(.8,1)" font-size="15" fill="#666">2</text><line x1="847.3" x2="852.3" y1="247.1" y2="247.1" stroke="#bfbfbf" stroke-width="1.2"/><text transform="translate(855.8,217.7) scale(.8,1)" font-size="15" fill="#666">4</text><line x1="847.3" x2="852.3" y1="213.9" y2="213.9" stroke="#bfbfbf" stroke-width="1.2"/><text transform="translate(855.8,184.5) scale(.8,1)" font-size="15" fill="#666">6</text><line x1="847.3" x2="852.3" y1="180.7" y2="180.7" stroke="#bfbfbf" stroke-width="1.2"/><text transform="translate(855.8,151.3) scale(.8,1)" font-size="15" fill="#666">8</text><line x1="847.3" x2="852.3" y1="147.5" y2="147.5" stroke="#bfbfbf" stroke-width="1.2"/><text transform="translate(855.8,118.1) scale(.8,1)" font-size="15" fill="#666">10</text><line x1="847.3" x2="852.3" y1="114.3" y2="114.3" stroke="#bfbfbf" stroke-width="1.2"/><text transform="translate(855.8,85.0) scale(.8,1)" font-size="15" fill="#666">12</text><line x1="847.3" x2="852.3" y1="81.2" y2="81.2" stroke="#bfbfbf" stroke-width="1.2"/><text x="81.6" y="296.2" font-size="12" fill="#636363" text-anchor="middle">3月</text><text x="148.2" y="296.2" font-size="12" fill="#636363" text-anchor="middle">4月</text><text x="214.8" y="296.2" font-size="12" fill="#636363" text-anchor="middle">5月</text><text x="281.3" y="296.2" font-size="12" fill="#636363" text-anchor="middle">6月</text><text x="347.9" y="296.2" font-size="12" fill="#636363" text-anchor="middle">7月</text><text x="414.5" y="296.2" font-size="12" fill="#636363" text-anchor="middle">8月</text><text x="481.1" y="296.2" font-size="12" fill="#636363" text-anchor="middle">9月</text><text x="547.7" y="296.2" font-size="12" fill="#636363" text-anchor="middle">10月</text><text x="614.3" y="296.2" font-size="12" fill="#636363" text-anchor="middle">11月</text><text x="680.8" y="296.2" font-size="12" fill="#636363" text-anchor="middle">12月</text><text x="747.4" y="296.2" font-size="12" fill="#636363" text-anchor="middle">1月</text><text x="814.0" y="296.2" font-size="12" fill="#636363" text-anchor="middle">2月</text><text x="18.4" y="62.1" font-size="12" fill="#888">水量(万m³)</text><text x="874.7" y="62.1" font-size="12" fill="#888" text-anchor="end">百分比(%)</text><polyline points="81.6,86.1 148.2,153.2 214.8,142.6 281.3,142.6 347.9,137.6 414.5,136.9 481.1,142.6 547.7,135.3 614.3,141.9 680.8,136.9 747.4,136.9 814.0,149.9" fill="none" stroke="#5aa8f8" stroke-width="3" stroke-linejoin="round"/><polyline points="81.6,189.7 148.2,116.0 214.8,104.4 281.3,150.9 347.9,111.0 414.5,89.5 481.1,204.0 547.7,145.9 614.3,207.3 680.8,181.5 747.4,109.4 814.0,223.9" fill="none" stroke="#ef5555" stroke-width="2.6" stroke-linejoin="round"/><circle cx="317.9" cy="327.5" r="4" fill="#fff" stroke="#3a96f5" stroke-width="2.500"/><text x="328.9" y="332.0" font-size="12" fill="#333" font-weight="500">供水量</text><rect x="373.5" y="322.5" width="10" height="10" fill="#76c253"/><text x="389.5" y="332.0" font-size="12" fill="#333" font-weight="500">售水量</text><rect x="435.5" y="322.5" width="10" height="10" fill="#f5b833"/><text x="451.5" y="332.0" font-size="12" fill="#333" font-weight="500">产销差水量</text><rect x="522.2" y="324.1" width="6.800" height="6.800" fill="#fff" stroke="#ef4d4d" stroke-width="2.400" transform="rotate(45 525.6 327.5)"/><text x="536.6" y="332.0" font-size="12" fill="#333" font-weight="500">产销差率</text></svg>
<div class="abs" style="left:1025.8px;top:1273.5285714285715px;width:22px;height:23px;border:1.3px solid #e0e0e0;border-radius:4px;background:#fff"><svg style="position:absolute;left:6.500px;top:4px" width="7" height="13" viewBox="0 0 7 13" fill="#5d76ad"><circle cx="3.500" cy="1.800" r="1.700"/><path d="M1 5h4v6h1.500v1.500h-6V11H2V6.500H1z"/></svg></div>
</div></body></html>
